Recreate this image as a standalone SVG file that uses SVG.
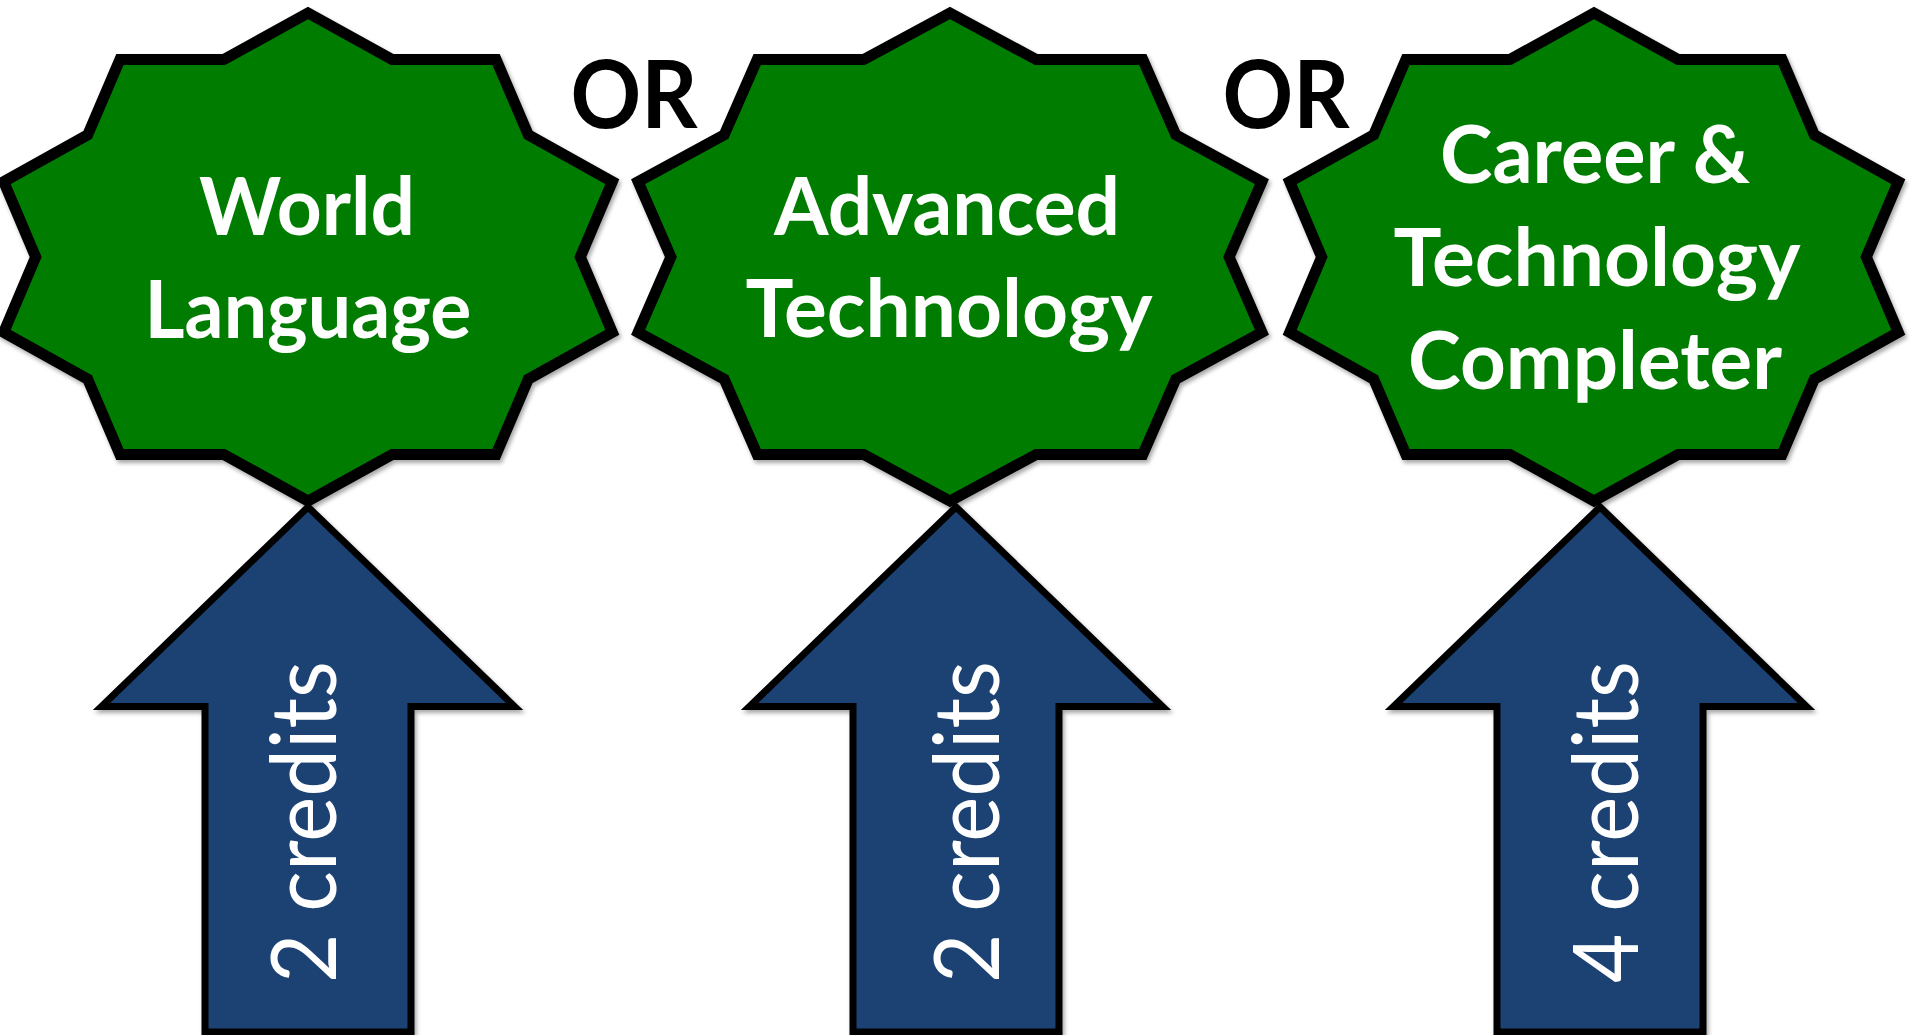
<svg xmlns="http://www.w3.org/2000/svg" width="1911" height="1035" viewBox="0 0 1911 1035">
<defs>
<style>
.star{fill:#007D00;stroke:#000;stroke-width:11;stroke-linejoin:miter;stroke-miterlimit:10}
.arrow{fill:#1A4273;stroke:#000;stroke-width:7;stroke-linejoin:miter;stroke-miterlimit:10}
.lbl{font-family:Lato,"Open Sans","DejaVu Sans",sans-serif;font-weight:700;font-size:80px;fill:#fff;text-anchor:middle}
.or{font-family:Lato,"Open Sans","DejaVu Sans",sans-serif;font-weight:700;font-size:93px;fill:#000;text-anchor:middle}
.cr{font-family:Lato,"Open Sans","DejaVu Sans",sans-serif;font-weight:400;font-size:92px;fill:#fff;text-anchor:middle}
</style>
<filter id="sh" x="-10%" y="-10%" width="120%" height="120%">
<feDropShadow dx="2" dy="3" stdDeviation="2" flood-color="#000" flood-opacity="0.35"/>
</filter>
<polygon id="starA" points="0,-244 84.2,-197.4 188.1,-197.4 220.3,-122.1 304.3,-75.4 272.3,0 304.3,75.4 220.3,122.1 188.1,197.4 84.2,197.4 0,244 -84.2,197.4 -188.1,197.4 -220.3,122.1 -304.3,75.4 -272.3,0 -304.3,-75.4 -220.3,-122.1 -188.1,-197.4 -84.2,-197.4"/>
<polygon id="starB" points="0,-244 86.3,-197.4 192.8,-197.4 225.8,-122.1 311.9,-75.4 279.1,0 311.9,75.4 225.8,122.1 192.8,197.4 86.3,197.4 0,244 -86.3,197.4 -192.8,197.4 -225.8,122.1 -311.9,75.4 -279.1,0 -311.9,-75.4 -225.8,-122.1 -192.8,-197.4 -86.3,-197.4"/>
<polygon id="arrowShape" points="0,-315 206.5,-115.5 103,-115.5 103,210 -103,210 -103,-115.5 -206.5,-115.5"/>
</defs>
<rect width="1911" height="1035" fill="#fff"/>

<g id="connectors">
<g id="arrow1">
<use href="#arrowShape" class="arrow" transform="translate(308,822)" filter="url(#sh)"/>
<text class="cr" transform="translate(336,822) rotate(-90)" textLength="322" lengthAdjust="spacingAndGlyphs">2 credits</text>
</g>
<g id="arrow2">
<use href="#arrowShape" class="arrow" transform="translate(956,822)" filter="url(#sh)"/>
<text class="cr" transform="translate(999,822) rotate(-90)" textLength="322" lengthAdjust="spacingAndGlyphs">2 credits</text>
</g>
<g id="arrow3">
<use href="#arrowShape" class="arrow" transform="translate(1600,822)" filter="url(#sh)"/>
<text class="cr" transform="translate(1638,822) rotate(-90)" textLength="322" lengthAdjust="spacingAndGlyphs">4 credits</text>
</g>
</g>

<g id="node-world-language">
<use href="#starA" class="star" transform="translate(308,257)" filter="url(#sh)"/>
<text class="lbl" x="307" y="235" textLength="216" lengthAdjust="spacingAndGlyphs">World</text>
<text class="lbl" x="308" y="338" textLength="327" lengthAdjust="spacingAndGlyphs">Language</text>
</g>

<g id="node-advanced-technology">
<use href="#starB" class="star" transform="translate(950,257)" filter="url(#sh)"/>
<text class="lbl" x="947" y="235" textLength="346" lengthAdjust="spacingAndGlyphs">Advanced</text>
<text class="lbl" x="949" y="337" textLength="407" lengthAdjust="spacingAndGlyphs">Technology</text>
</g>

<g id="node-career-technology">
<use href="#starA" class="star" transform="translate(1594,257)" filter="url(#sh)"/>
<text class="lbl" x="1595" y="183" textLength="310" lengthAdjust="spacingAndGlyphs">Career &amp;</text>
<text class="lbl" x="1597" y="286" textLength="407" lengthAdjust="spacingAndGlyphs">Technology</text>
<text class="lbl" x="1595" y="389" textLength="374" lengthAdjust="spacingAndGlyphs">Completer</text>
</g>

<g id="or-labels">
<text class="or" x="634" y="128" textLength="127" lengthAdjust="spacingAndGlyphs">OR</text>
<text class="or" x="1286" y="128" textLength="127" lengthAdjust="spacingAndGlyphs">OR</text>
</g>
</svg>
